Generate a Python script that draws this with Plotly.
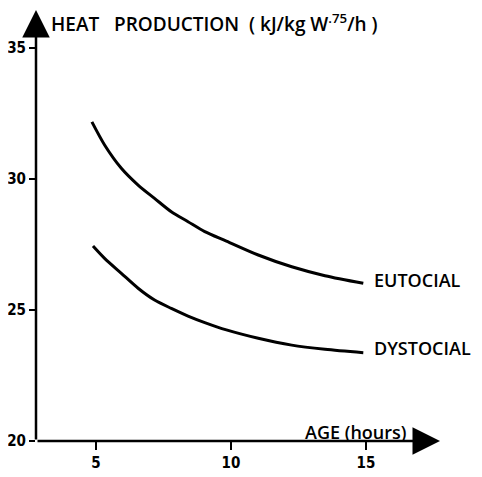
import plotly.graph_objects as go

# Data
age_eutocial = [4.85, 5.32, 5.94, 6.56, 7.17, 7.79, 8.41, 9.03, 9.83, 11.01, 12.25, 13.48, 14.90]
heat_eutocial = [32.18, 31.30, 30.41, 29.77, 29.26, 28.75, 28.37, 27.99, 27.63, 27.10, 26.65, 26.31, 26.02]

age_dystocial = [4.89, 5.32, 5.94, 6.56, 7.17, 7.79, 8.41, 9.03, 9.83, 11.01, 12.25, 13.48, 14.90]
heat_dystocial = [27.44, 26.97, 26.40, 25.83, 25.38, 25.06, 24.77, 24.52, 24.24, 23.92, 23.66, 23.50, 23.37]

x_ticks = [5, 10, 15]
y_ticks = [20, 25, 30, 35]
series_names = ["EUTOCIAL", "DYSTOCIAL"]

X_MIN, X_MAX = 2.78, 17.74
Y_MIN, Y_MAX = 20, 36.45

LABEL_FONT = "Open Sans, Lato, DejaVu Sans"
TICK_FONT = "Liberation Sans Narrow, DejaVu Sans Condensed, Roboto"

fig = go.Figure()
for xs, ys, name, dy in [(age_eutocial, heat_eutocial, series_names[0], 3),
                         (age_dystocial, heat_dystocial, series_names[1], 5)]:
    fig.add_trace(go.Scatter(x=xs, y=ys, mode="lines", name=name,
                             line=dict(color="black", width=3, shape="spline", smoothing=0.8),
                             showlegend=False, hoverinfo="skip"))
    fig.add_annotation(x=xs[-1], y=ys[-1], text=name, showarrow=False,
                       xanchor="left", yanchor="middle", xshift=9, yshift=dy,
                       font=dict(family=LABEL_FONT, size=18, color="black", weight=600))

# axes with arrows
fig.add_annotation(x=X_MAX, y=Y_MIN, ax=X_MIN, ay=Y_MIN, xref="x", yref="y",
                   axref="x", ayref="y", showarrow=True, arrowhead=2,
                   arrowsize=2.2, arrowwidth=2.5, arrowcolor="black", text="")
fig.add_annotation(x=X_MIN, y=Y_MAX, ax=X_MIN, ay=Y_MIN, xref="x", yref="y",
                   axref="x", ayref="y", showarrow=True, arrowhead=2,
                   arrowsize=2.2, arrowwidth=2.5, arrowcolor="black", text="")

fig.add_annotation(x=0.033, y=0.97, xref="paper", yref="paper",
                   text="HEAT   PRODUCTION  ( kJ/kg W<sup>.75</sup>/h )", showarrow=False,
                   xanchor="left", yanchor="middle",
                   font=dict(family=LABEL_FONT, size=19, color="black", weight=600))
fig.add_annotation(x=14.6, y=Y_MIN, xref="x", yref="y", text="AGE (hours)",
                   showarrow=False, xanchor="center", yanchor="bottom", yshift=-5,
                   font=dict(family=LABEL_FONT, size=18, color="black", weight=600))

fig.update_xaxes(range=[X_MIN, X_MAX], tickvals=x_ticks, ticktext=[str(v) for v in x_ticks],
                 ticks="outside", ticklen=8, tickwidth=1.5, tickcolor="black",
                 showgrid=False, zeroline=False, showline=False, automargin=False,
                 tickfont=dict(family=TICK_FONT, size=15, color="black", weight="bold"))
fig.update_yaxes(range=[Y_MIN, Y_MAX], tickvals=y_ticks, ticktext=[str(v) for v in y_ticks],
                 ticks="outside", ticklen=6, tickwidth=1.5, tickcolor="black",
                 showgrid=False, zeroline=False, showline=False, automargin=False,
                 tickfont=dict(family=TICK_FONT, size=15, color="black", weight="bold"))

# page body adds an 8px offset, so the figure is sized/margined to compensate
fig.update_layout(width=474, height=469, margin=dict(l=28, r=42, t=2, b=36),
                  plot_bgcolor="white", paper_bgcolor="white")

fig.write_html("out.html")
